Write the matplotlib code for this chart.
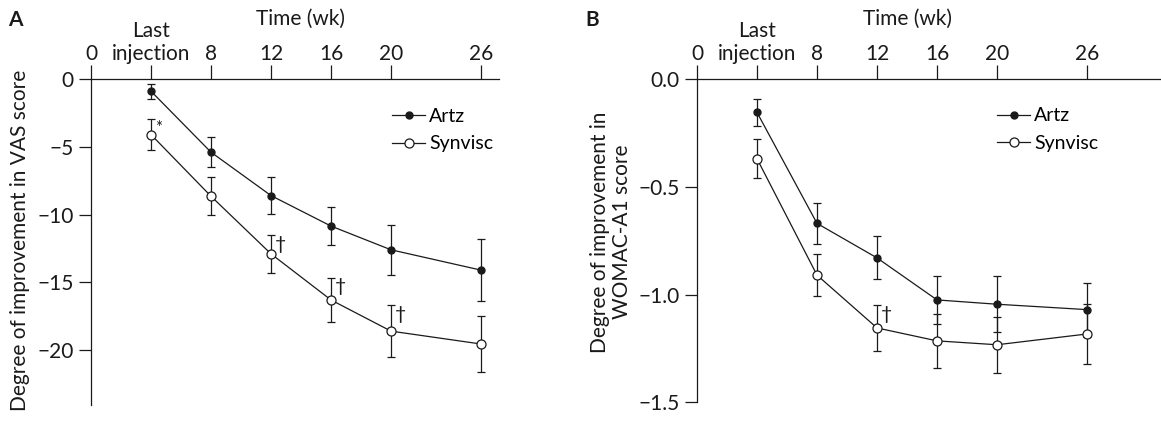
import matplotlib
matplotlib.use('Agg')
import matplotlib.pyplot as plt
import matplotlib.transforms as mtransforms

plt.rcParams['font.family'] = ['Lato', 'DejaVu Sans']
plt.rcParams['font.size'] = 15

# Time points (weeks) and x tick labels
weeks = [4, 8, 12, 16, 20, 26]
tick_weeks = [0, 4, 8, 12, 16, 20, 26]
tick_labels = ['0', 'Last\ninjection', '8', '12', '16', '20', '26']

# Panel A: VAS score
vas_artz = [-0.9, -5.4, -8.6, -10.85, -12.6, -14.1]
vas_artz_err = [0.55, 1.1, 1.35, 1.4, 1.85, 2.3]
vas_syn = [-4.1, -8.65, -12.9, -16.3, -18.6, -19.55]
vas_syn_err = [1.15, 1.4, 1.4, 1.65, 1.9, 2.05]
vas_sig_idx = [0, 2, 3, 4]
vas_sig_marks = ['*', '†', '†', '†']

# Panel B: WOMAC-A1 score
womac_artz = [-0.155, -0.67, -0.83, -1.025, -1.045, -1.07]
womac_artz_err = [0.062, 0.095, 0.1, 0.113, 0.13, 0.125]
womac_syn = [-0.37, -0.91, -1.155, -1.215, -1.233, -1.183]
womac_syn_err = [0.09, 0.097, 0.105, 0.127, 0.13, 0.14]
womac_sig_idx = [2]
womac_sig_marks = ['†']

ink = '#1a1a1a'
W, H = 1161, 421

fig = plt.figure(figsize=(W / 100, H / 100), dpi=100)
axA = fig.add_axes([91 / W, 1 - 405 / H, 408 / W, (405 - 79) / H])
axB = fig.add_axes([697 / W, 1 - 402.3 / H, 464 / W, (402.3 - 79) / H])


def draw_panel(ax, artz, artz_err, syn, syn_err, sig_idx, sig_marks):
    ax.errorbar(weeks, artz, yerr=artz_err, fmt='none', ecolor=ink,
                elinewidth=0.9, capsize=3, capthick=0.9, zorder=2)
    ax.errorbar(weeks, syn, yerr=syn_err, fmt='none', ecolor=ink,
                elinewidth=0.9, capsize=3, capthick=0.9, zorder=2)
    ax.plot(weeks, artz, '-o', color=ink, lw=0.9, ms=5, label='Artz', zorder=3)
    ax.plot(weeks, syn, '-o', color=ink, lw=0.9, ms=6.5, mfc='white',
            mew=0.9, label='Synvisc', zorder=3)
    for i, m in zip(sig_idx, sig_marks):
        fs = 12 if m == '*' else 14
        ax.annotate(m, (weeks[i], syn[i] + syn_err[i]), xytext=(3, -0.5),
                    textcoords='offset points', ha='left', va='top',
                    fontsize=fs, color=ink)

    for s in ['right', 'bottom']:
        ax.spines[s].set_visible(False)
    for s in ['left', 'top']:
        ax.spines[s].set_linewidth(0.9)
        ax.spines[s].set_color(ink)
    ax.xaxis.tick_top()
    ax.set_xticks(tick_weeks)
    ax.set_xticklabels(tick_labels)
    ax.tick_params(axis='x', direction='out', length=10, width=0.9,
                   pad=0.5, colors=ink)
    ax.tick_params(axis='y', direction='out', length=8.6, width=0.9,
                   pad=4, colors=ink)

    ax.legend(loc='upper left', frameon=False, borderaxespad=0, borderpad=0,
              fontsize=14, handlelength=1.7, handletextpad=0.2,
              labelspacing=0.55)

    # Time label centred above the axis
    trans = mtransforms.blended_transform_factory(ax.transData, fig.transFigure)
    ax.text(14, 1 - 19 / H, 'Time (wk)', transform=trans, ha='center',
            va='center', color=ink)


draw_panel(axA, vas_artz, vas_artz_err, vas_syn, vas_syn_err,
           vas_sig_idx, vas_sig_marks)
axA.set_xlim(0, 27.2)
axA.set_ylim(-24.05, 0)
axA.set_yticks([0, -5, -10, -15, -20])
axA.legend_.set_bbox_to_anchor((0.738, 0.912))

draw_panel(axB, womac_artz, womac_artz_err, womac_syn, womac_syn_err,
           womac_sig_idx, womac_sig_marks)
axB.set_xlim(0, 30.93)
axB.set_ylim(-1.5, 0)
axB.set_yticks([0.0, -0.5, -1.0, -1.5])
axB.set_yticklabels(['0.0', '\u22120.5', '\u22121.0', '\u22121.5'])
axB.legend_.set_bbox_to_anchor((0.6466, 0.912))

fig.text(20 / W, 1 - 240 / H, 'Degree of improvement in VAS score',
         rotation=90, ha='center', va='center', color=ink)
fig.text(611 / W, 1 - 232 / H, 'Degree of improvement in\nWOMAC-A1 score',
         rotation=90, ha='center', va='center', multialignment='center',
         color=ink, linespacing=1.1)

fig.text(15 / W, 1 - 20 / H, 'A', fontweight='bold', ha='center',
         va='center', color=ink)
fig.text(592 / W, 1 - 20 / H, 'B', fontweight='bold', ha='center',
         va='center', color=ink)

fig.savefig('out.png', dpi=100)
